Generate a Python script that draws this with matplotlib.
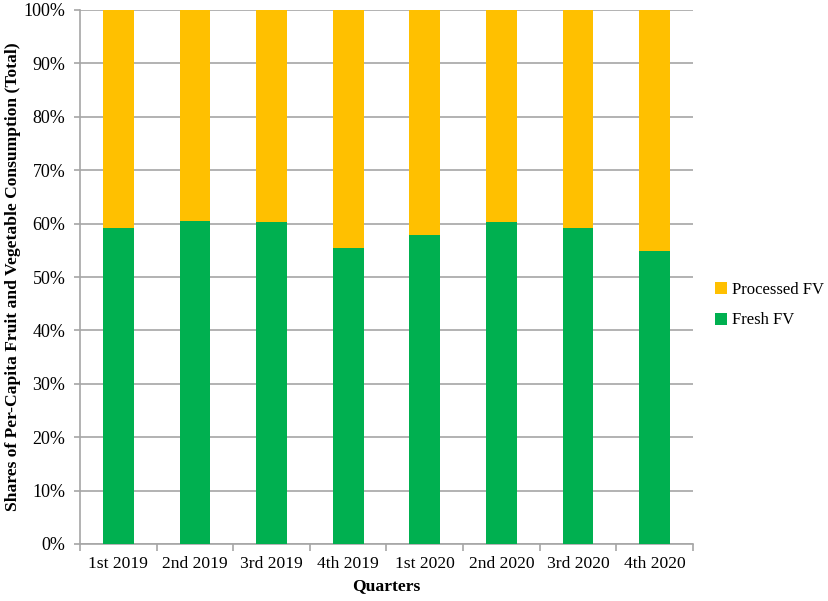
import matplotlib
matplotlib.use("Agg")
import matplotlib.pyplot as plt
from matplotlib.ticker import FixedLocator, NullFormatter, FixedFormatter
import numpy as np

quarters = ["1st 2019", "2nd 2019", "3rd 2019", "4th 2019",
            "1st 2020", "2nd 2020", "3rd 2020", "4th 2020"]
fresh = [59.25, 60.45, 60.3, 55.4, 57.9, 60.25, 59.2, 54.85]
processed = [100 - v for v in fresh]

plt.rcParams['font.family'] = ['Liberation Serif', 'DejaVu Serif']

fig = plt.figure(figsize=(8.29, 6.01), dpi=100)
ax = fig.add_axes([80/829, 57/601, (693-80)/829, (544-10)/601])

x = np.arange(len(quarters)) + 0.5
ax.bar(x, fresh, width=0.4, color="#00B050", label="Fresh FV", zorder=3)
ax.bar(x, processed, width=0.4, bottom=fresh, color="#FFC000", label="Processed FV", zorder=3)

ax.set_xlim(0, len(quarters))
ax.set_ylim(0, 100)
ax.set_yticks(np.arange(0, 101, 10))
ax.set_yticklabels([f"{v}%" for v in range(0, 101, 10)], fontsize=13)
ax.yaxis.grid(True, color="#A6A6A6", linewidth=1.2, zorder=0)

ax.xaxis.set_major_locator(FixedLocator(np.arange(0, len(quarters) + 1)))
ax.xaxis.set_major_formatter(NullFormatter())
ax.xaxis.set_minor_locator(FixedLocator(x))
ax.xaxis.set_minor_formatter(FixedFormatter(quarters))
ax.tick_params(axis='x', which='minor', length=0, labelsize=12.6, pad=9)
ax.tick_params(axis='x', which='major', length=5, color="#A6A6A6", width=1.2)
ax.tick_params(axis='y', length=4.5, color="#A6A6A6", width=1.2, pad=6)

for s in ["top", "right"]:
    ax.spines[s].set_visible(False)
for s in ["left", "bottom"]:
    ax.spines[s].set_color("#A6A6A6")
    ax.spines[s].set_linewidth(1.2)

ax.set_xlabel("Quarters", fontsize=12.6, fontweight="bold", labelpad=4)
ax.set_ylabel("Shares of Per-Capita Fruit and Vegetable Consumption (Total)",
              fontsize=12.6, fontweight="bold", labelpad=1.5)

handles, labels = ax.get_legend_handles_labels()
fig.legend(handles[::-1], labels[::-1], loc="center left",
           bbox_to_anchor=(700/829, 1 - 305/601), frameon=False,
           fontsize=12, handlelength=0.7, handleheight=0.7, handletextpad=0.3,
           labelspacing=0.9)

fig.savefig("out.png", dpi=100)
